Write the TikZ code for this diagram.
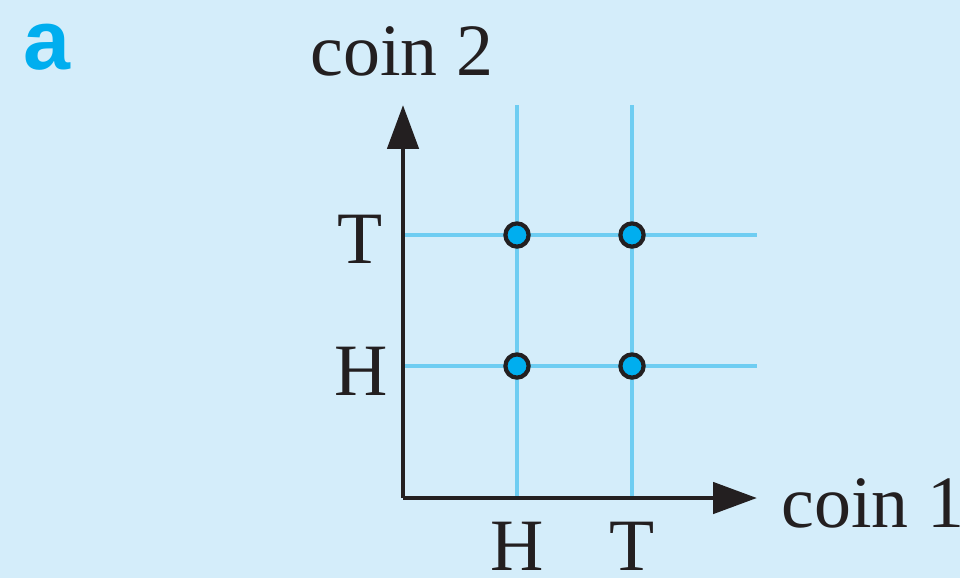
\documentclass[tikz,border=0pt]{standalone}
\usepackage{fontspec}
\setmainfont{Liberation Serif}
\setsansfont{Liberation Sans}
\usepackage{xcolor}
\usepackage{tikz}
\usetikzlibrary{arrows.meta}
\definecolor{panelbg}{RGB}{212,237,250}
\definecolor{gridblue}{RGB}{110,205,242}
\definecolor{dotblue}{RGB}{0,174,239}
\definecolor{inkdark}{RGB}{35,31,32}

\begin{document}
\begin{tikzpicture}[x=0.01cm,y=-0.01cm,
  axis/.style={inkdark,line width=1.4pt,-{Triangle[length=12.5pt,width=8.8pt]}},
  gridline/.style={gridblue,line width=1.1pt},
  outcome/.style={circle,fill=dotblue,draw=inkdark,line width=1.2pt,minimum size=6.6pt,inner sep=0pt},
  lab/.style={text=inkdark,font=\fontsize{21}{25}\selectfont,inner sep=0pt}]
  \useasboundingbox[fill=panelbg] (0,0) rectangle (960,578);

  % ---- Panel letter ----
  \node[text=dotblue,font=\sffamily\bfseries\fontsize{24}{28}\selectfont,inner sep=0pt] (panel) at (47,47) {a};

  % ---- Grid of outcomes ----
  \coordinate (O) at (403,498);
  \coordinate (ytip) at (403,105);
  \coordinate (xtip) at (757,498);
  \coordinate (h1top) at (517,105);  \coordinate (h1bot) at (517,498);
  \coordinate (t1top) at (632,105);  \coordinate (t1bot) at (632,498);
  \coordinate (t2left) at (403,235); \coordinate (t2right) at (757,235);
  \coordinate (h2left) at (403,366); \coordinate (h2right) at (757,366);
  \draw[gridline] (h1bot) -- (h1top);
  \draw[gridline] (t1bot) -- (t1top);
  \draw[gridline] (t2left) -- (t2right);
  \draw[gridline] (h2left) -- (h2right);

  % ---- Axes ----
  \draw[axis] (O) -- (ytip);
  \draw[axis] (O) -- (xtip);
  \node[lab,anchor=base] (ylabel) at (402,75) {coin 2};
  \node[lab,anchor=base west] (xlabel) at (781,527) {coin 1};
  \node[lab,anchor=base] (yT) at (360,263) {T};
  \node[lab,anchor=base] (yH) at (361,395) {H};
  \node[lab,anchor=base] (xH) at (517,570) {H};
  \node[lab,anchor=base] (xT) at (632,570) {T};

  % ---- Sample points ----
  \node[outcome] (HH) at (517,366) {};
  \node[outcome] (TH) at (632,366) {};
  \node[outcome] (HT) at (517,235) {};
  \node[outcome] (TT) at (632,235) {};
\end{tikzpicture}
\end{document}
